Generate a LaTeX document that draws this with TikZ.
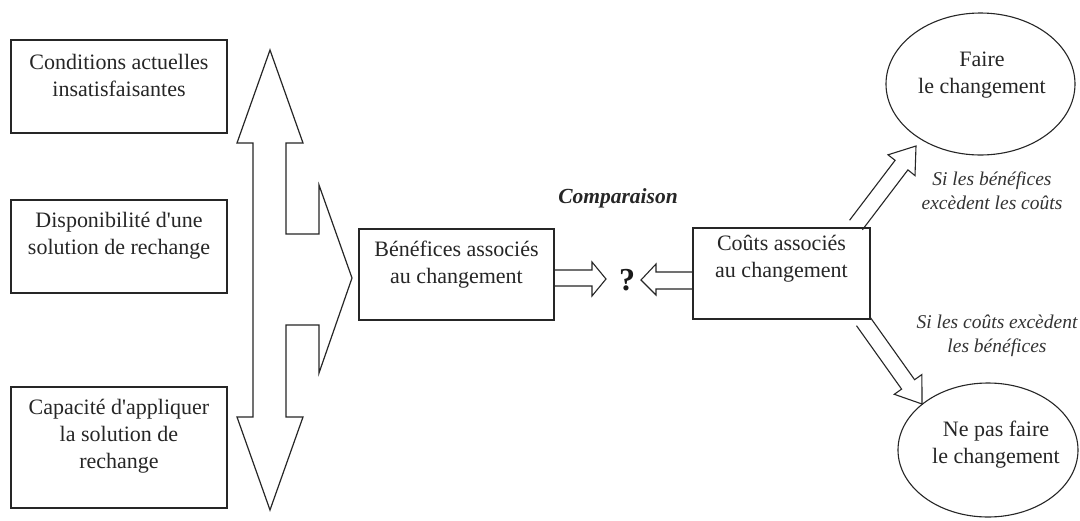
\documentclass[tikz,border=0pt]{standalone}
\usepackage{fontspec}
\setmainfont{Liberation Serif}[Ligatures=TeXOff]
\usetikzlibrary{shapes.geometric,calc}
\begin{document}
\begin{tikzpicture}[x=1pt,y=-1pt,
  line/.style={draw=black!85,line width=1.2pt,line join=miter},
  boxnode/.style={draw=black!85,line width=1.2pt,rectangle,inner sep=0pt},
  ellnode/.style={draw=black!85,line width=1.1pt,ellipse,inner sep=0pt},
  txt/.style={align=center,text=black!85,font=\fontsize{22}{27}\selectfont,inner sep=0pt},
  itxt/.style={align=center,text=black!80,font=\fontsize{19.5}{23.5}\selectfont\itshape,inner sep=0pt}]
\useasboundingbox (0,0) rectangle (1080,520);
\fill[white] (0,0) rectangle (1080,520);

% left boxes
\node[boxnode,minimum width=216pt,minimum height=93pt] (c1) at (119,86.5) {};
\node[txt] (t1) at (119,75) {Conditions actuelles\\insatisfaisantes};
\node[boxnode,minimum width=216pt,minimum height=93pt] (c2) at (119,246.5) {};
\node[txt] (t2) at (119,236) {Disponibilité d'une\\solution de rechange};
\node[boxnode,minimum width=216pt,minimum height=121pt] (c3) at (119,447.5) {};
\node[txt] (t3) at (119,436) {Capacité d'appliquer\\la solution de\\rechange};

% big three-headed arrow
\draw[line] (270,50) -- (303,143) -- (286,143) -- (286,234) -- (319,234) -- (319,185)
  -- (352,278) -- (319,373) -- (319,325) -- (286,325) -- (286,417) -- (303,417)
  -- (270,510) -- (237,417) -- (253,417) -- (253,143) -- (237,143) -- cycle;

% central boxes
\node[boxnode,minimum width=195pt,minimum height=91pt] (ben) at (456.5,274.5) {};
\node[txt] (tb) at (456.5,264.5) {Bénéfices associés\\au changement};
\node[boxnode,minimum width=177pt,minimum height=91pt] (cout) at (781.5,273.5) {};
\node[txt] (tc) at (781.5,258.5) {Coûts associés\\au changement};

\node[font=\fontsize{21.5}{26}\selectfont\bfseries\itshape,text=black!85,inner sep=0pt] (comp) at (618,198) {Comparaison};
\node[font=\fontsize{32}{36}\selectfont\bfseries,text=black!90,inner sep=0pt] (q) at (627,280) {?};

% horizontal hollow arrows
\draw[line,line width=1.1pt] ($(ben.east)+(0,-4.5)$) -- (592,270) -- (592,262) -- (606,279) -- (592,296) -- (592,286) -- ($(ben.east)+(0,11.5)$);
\draw[line,line width=1.1pt] ($(cout.west)+(0,-1.5)$) -- (656,272) -- (656,264) -- (641,280) -- (656,295) -- (656,289) -- ($(cout.west)+(0,15.5)$);

% ellipses
\node[ellnode,minimum width=189pt,minimum height=142pt] (faire) at (980.5,84) {};
\node[txt] (tf) at (982,75.5) {Faire\\le changement};
\node[ellnode,minimum width=180pt,minimum height=134pt] (nepas) at (988,450) {};
\node[txt] (tn) at (996,444.5) {Ne pas faire\\le changement};

% diagonal hollow arrows
\draw[line,line width=1.1pt] (862.4,229.8) -- (907.9,169.9) -- (915,175.6) -- (916,146)
  -- (888,154.8) -- (895.1,160.3) -- (849.6,220.2);
\draw[line,line width=1.1pt] (869.5,316.3) -- (914.6,379.7) -- (921.9,374.5) -- (922,404)
  -- (894.3,394.3) -- (901.6,389.1) -- (856.5,325.7);

% conditions
\node[itxt] (s1) at (992,190.5) {Si les bénéfices\\excèdent les coûts};
\node[itxt] (s2) at (997,336) {Si les coûts excèdent\\les bénéfices};
\end{tikzpicture}
\end{document}
